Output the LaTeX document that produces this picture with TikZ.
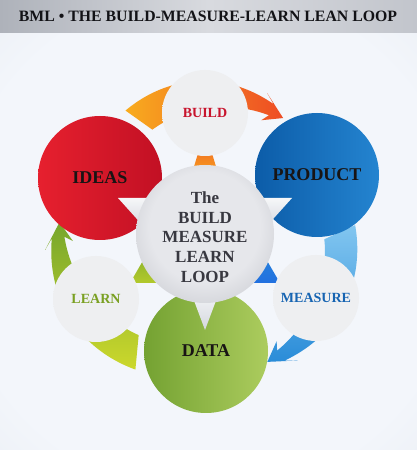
\documentclass[tikz,border=0pt]{standalone}
\usepackage{fontspec}
\setmainfont{Liberation Serif}
\definecolor{bgin}{RGB}{243,246,251}
\definecolor{bgmid}{RGB}{228,232,239}
\definecolor{bgout}{RGB}{206,211,220}
\definecolor{tb1}{RGB}{174,178,186}
\definecolor{tb2}{RGB}{216,218,223}
\definecolor{tb3}{RGB}{194,197,204}
\definecolor{titlec}{RGB}{18,18,22}
\definecolor{labeldark}{RGB}{24,20,20}
\definecolor{ora1}{RGB}{248,172,30}
\definecolor{ora2}{RGB}{238,76,36}
\definecolor{blu1}{RGB}{130,198,240}
\definecolor{blu2}{RGB}{42,140,216}
\definecolor{gre1}{RGB}{204,216,44}
\definecolor{gre2}{RGB}{118,166,44}
\definecolor{red1}{RGB}{230,32,46}
\definecolor{red2}{RGB}{194,16,36}
\definecolor{pb1}{RGB}{12,92,168}
\definecolor{pb2}{RGB}{36,132,208}
\definecolor{dg1}{RGB}{116,162,50}
\definecolor{dg2}{RGB}{172,204,94}
\definecolor{sb1}{RGB}{238,239,241}
\definecolor{sb2}{RGB}{218,221,225}
\definecolor{cb1}{RGB}{230,231,235}
\definecolor{cb2}{RGB}{156,159,168}
\definecolor{ptop}{RGB}{246,247,249}
\definecolor{pbot}{RGB}{212,215,222}
\definecolor{buildc}{RGB}{200,20,45}
\definecolor{measc}{RGB}{22,100,178}
\definecolor{learnc}{RGB}{122,160,34}
\definecolor{ctext}{RGB}{56,56,64}
\pgfdeclareradialshading{bgshade}{\pgfpoint{0bp}{0bp}}{color(0bp)=(bgin); color(30bp)=(bgin); color(50bp)=(bgmid); color(71bp)=(bgout)}
\pgfdeclareradialshading{smallball}{\pgfpoint{0bp}{0bp}}{color(0bp)=(sb1); color(28bp)=(sb1); color(50bp)=(sb2)}
\pgfdeclareradialshading{centerball}{\pgfpoint{0bp}{4bp}}{color(0bp)=(cb1); color(20bp)=(cb1); color(54bp)=(cb2)}
\newcommand\bmlloop[3]{%
  \begin{scope}[shift={(205,217)}, rotate=#1, scale=#2]
    \shade[#3] plot[smooth, domain=123:62, samples=25] (\x:{146+6*sin((\x-62)/61*180)})
      -- (66:153) -- (55.8:139) -- (63.5:126) -- (61.5:134)
      -- plot[smooth, domain=61.5:117, samples=25] (\x:{134-18*(\x-61.5)/55.5}) -- cycle;
  \end{scope}}
\begin{document}
\begin{tikzpicture}[x=1pt,y=1pt,
  bigcirc/.style={circle, minimum size=124pt, inner sep=0pt, font=\fontsize{18}{20}\selectfont\bfseries, text=labeldark},
  smallcirc/.style={circle, minimum size=86pt, inner sep=0pt, shade, shading=smallball, font=\fontsize{14}{16}\selectfont\bfseries},
  ptrshape/.style={top color=ptop, bottom color=pbot}]
\useasboundingbox (0,0) rectangle (417,450);
% background
\shade[shading=bgshade] (0,0) rectangle (417,417);
\shade[left color=tb1, right color=tb3, middle color=tb2] (0,417) rectangle (417,450);
\node[font=\fontsize{15.8}{18}\selectfont\bfseries, text=titlec] (title) at (208,433.5) {BML • THE BUILD-MEASURE-LEARN LEAN LOOP};
% loop arrows
\bmlloop{0}{1}{left color=ora1, right color=ora2}
\bmlloop{-120}{1.03}{top color=blu1, bottom color=blu2}
\bmlloop{120}{1.05}{bottom color=gre1, top color=gre2}
% small coloured wedges
\shade[top color=ora2, bottom color=ora1] (205,320) -- (220,270) -- (190,270) -- cycle;
\shade[top color=gre2, bottom color=gre1!70!gre2] (155,210) -- (170,167) -- (130,167) -- cycle;
\shade[top color=blu2, bottom color=blu2!80!blue] (255,210) -- (280,167) -- (240,167) -- cycle;
% big circles
\node[bigcirc, left color=red1, right color=red2] (ideas) at (100,272) {IDEAS};
\node[bigcirc, left color=pb1, right color=pb2] (product) at (317,275) {PRODUCT};
\node[bigcirc, left color=dg1, right color=dg2] (data) at (206,99) {DATA};
% small circles
\node[smallcirc, text=buildc] (build) at (205,337) {BUILD};
\node[smallcirc, text=measc] (measure) at (316,152) {MEASURE};
\node[smallcirc, text=learnc] (learn) at (96,151) {LEARN};
% pointers of the centre circle
\shade[ptrshape] (118,252) -- (155,252) -- (145,222) -- cycle;
\shade[ptrshape] (292,252) -- (255,252) -- (265,222) -- cycle;
\shade[ptrshape] (205,120) -- (190,160) -- (220,160) -- cycle;
% centre circle
\node[circle, minimum size=138pt, inner sep=0pt, shade, shading=centerball] (centre) at (205,216) {};
\node[font=\fontsize{17}{19.7}\selectfont\bfseries, text=ctext, align=center] (centretext) at (205,213) {The\\BUILD\\MEASURE\\LEARN\\LOOP};
\end{tikzpicture}
\end{document}
